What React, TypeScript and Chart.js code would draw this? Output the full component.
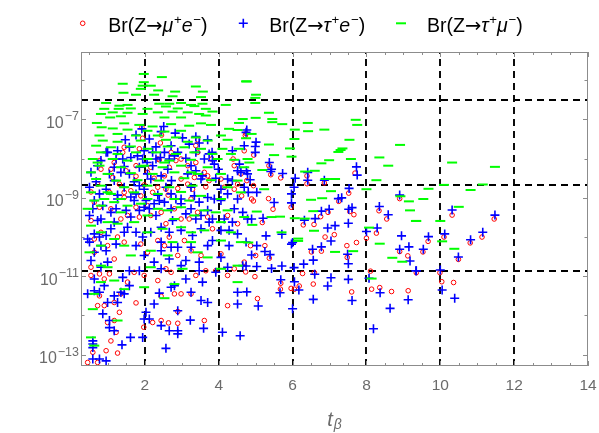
import React, { useEffect, useRef } from "react";
import { Chart, registerables } from "chart.js";

Chart.register(...registerables);

// ---------- data: [t_beta, log10(Br)] ----------
const muE: number[][] = [
  [10.32, -9.44], [11.46, -9.54], [9.67, -10.11], [10.1, -10.0], [10.81, -10.15], [11.13, -10.0],
  [9.53, -10.38], [10.49, -10.57], [9.35, -10.91], [9.99, -10.91], [10.04, -11.14], [10.36, -11.16],
  [4.74, -7.36], [4.95, -7.91], [5.36, -8.18], [5.41, -8.41], [5.68, -8.49], [6.39, -8.44],
  [6.39, -8.64], [6.86, -8.62], [7.69, -8.37], [4.76, -8.56], [5.35, -9.02], [5.47, -9.29],
  [4.94, -9.08], [5.96, -9.24], [7.52, -8.88], [7.25, -9.09], [7.55, -9.35], [7.66, -9.43],
  [6.96, -9.37], [6.76, -9.48], [6.58, -9.68], [6.29, -9.69], [5.18, -9.63], [7.13, -9.94],
  [6.88, -10.0], [6.78, -10.36], [6.51, -10.38], [7.47, -10.22], [7.48, -10.52], [7.73, -10.14],
  [8.0, -10.03], [8.27, -9.9], [8.34, -9.33], [8.55, -9.54], [8.9, -9.02], [8.9, -10.37],
  [9.12, -10.48], [8.11, -10.87], [8.14, -11.33], [8.36, -11.29], [8.68, -11.39], [9.13, -11.37],
  [7.6, -11.4], [6.56, -11.2], [6.59, -10.91], [6.27, -10.93], [6.18, -11.25], [6.05, -11.33],
  [5.96, -11.31], [5.67, -11.33], [5.68, -11.18], [5.05, -11.57], [5.25, -10.22], [5.37, -10.54],
  [5.0, -10.47], [4.86, -10.22], [4.98, -11.01], [4.73, -10.89], [4.94, -8.69], [4.89, -9.03],
  [1.92, -7.2], [2.45, -7.4], [1.94, -7.48], [1.44, -7.71], [2.42, -7.6], [3.43, -7.52],
  [3.38, -7.67], [4.69, -7.8], [4.72, -7.41], [0.78, -8.05], [1.17, -8.1], [1.76, -8.18],
  [2.39, -8.03], [2.84, -8.05], [3.38, -8.1], [3.81, -8.01], [4.39, -8.01], [0.81, -8.27],
  [1.49, -8.31], [2.16, -8.22], [2.66, -8.22], [3.16, -8.18], [3.61, -8.35], [4.6, -8.39],
  [1.13, -8.48], [1.76, -8.45], [2.25, -8.5], [3.34, -8.48], [3.74, -8.56], [0.72, -8.65],
  [1.31, -8.65], [1.98, -8.67], [2.57, -8.78], [3.16, -8.65], [3.65, -8.72], [4.15, -8.73],
  [0.54, -8.85], [1.04, -8.86], [1.62, -8.82], [2.21, -8.86], [2.89, -8.76], [3.29, -8.78],
  [4.42, -8.78], [4.62, -8.95], [1.44, -8.99], [2.63, -8.93],
  [1.4, -7.84], [1.85, -7.75], [2.35, -8.01], [2.71, -7.84], [2.98, -8.01], [3.43, -7.84],
  [3.7, -8.44], [4.06, -8.52], [4.51, -8.65], [4.42, -8.18], [1.08, -8.27], [2.07, -8.35],
  [2.53, -8.44], [2.98, -8.52], [1.44, -8.86], [1.89, -8.95], [3.25, -9.03], [2.35, -8.73],
  [0.54, -9.58], [0.77, -9.24], [1.35, -9.54], [1.76, -9.24], [1.85, -9.49], [2.16, -9.45],
  [2.57, -9.66], [3.2, -9.54], [3.83, -9.79], [0.63, -10.05], [0.99, -10.22], [1.26, -10.0],
  [1.89, -10.18], [2.35, -10.09], [2.66, -10.0], [2.89, -10.47], [3.25, -10.35], [2.71, -10.9],
  [0.54, -10.77], [0.9, -11.07], [0.77, -10.94], [1.04, -10.94], [0.54, -10.98], [1.71, -10.9],
  [2.57, -10.81], [1.98, -10.98], [3.38, -10.98], [3.65, -10.86], [3.92, -10.86], [4.24, -10.98],
  [4.69, -10.64], [2.8, -11.45], [2.98, -11.45], [3.25, -11.45], [2.44, -11.51], [1.76, -11.68],
  [1.35, -11.45], [0.77, -11.5], [0.9, -11.75], [1.31, -11.92], [1.17, -12.13], [0.99, -12.18],
  [2.89, -11.9], [2.44, -12.13], [2.64, -12.19], [2.89, -12.2], [2.21, -12.18], [3.61, -12.13],
  [4.24, -11.75], [1.97, -12.3], [1.22, -12.43], [1.08, -12.65], [1.26, -12.96], [0.95, -12.9],
  [0.59, -12.94], [0.45, -13.2], [0.72, -13.2],
  [0.63, -9.11], [1.08, -9.28], [1.53, -9.45], [2.07, -9.2], [2.44, -9.37], [2.8, -9.28],
  [2.98, -9.54], [3.43, -9.37], [3.7, -9.49], [4.24, -9.45], [4.51, -9.66], [0.81, -9.88],
  [1.44, -10.13], [2.07, -10.39], [2.53, -10.22], [3.07, -10.09], [3.52, -10.47], [4.06, -10.43],
  [4.42, -10.81], [0.63, -10.39], [1.17, -10.56], [1.53, -11.15], [2.35, -11.11], [1.17, -11.67],
  [0.72, -11.75],
];

const tauE: number[][] = [
  [10.32, -9.31], [11.48, -9.44], [9.68, -9.99], [10.12, -9.92], [10.82, -10.07], [11.15, -9.88],
  [9.54, -10.31], [10.49, -10.51], [9.35, -10.86], [10.0, -10.84], [10.05, -11.35], [10.39, -11.56],
  [4.76, -7.27], [5.01, -7.58], [4.99, -7.84], [4.99, -7.69], [5.37, -8.1], [5.43, -8.27],
  [5.41, -8.33], [5.73, -8.38], [6.07, -8.5], [6.41, -8.35], [6.41, -8.55], [6.86, -8.55],
  [7.73, -8.21], [7.75, -8.42], [4.75, -8.31], [4.85, -8.54], [5.03, -8.86], [4.8, -8.86],
  [6.04, -8.73], [5.97, -8.9], [5.97, -9.13], [5.5, -9.12], [7.53, -8.76], [7.24, -9.02],
  [7.33, -9.0], [7.61, -9.25], [7.52, -9.29], [6.99, -9.29], [6.78, -9.34], [6.61, -9.53],
  [6.32, -9.57], [5.2, -9.52], [4.89, -9.54], [7.51, -9.65], [7.15, -9.71], [6.95, -9.77],
  [7.04, -10.1], [6.78, -10.25], [6.54, -10.31], [5.71, -9.93], [5.28, -9.97], [5.97, -10.18],
  [6.0, -10.14], [5.03, -10.22], [4.89, -10.46], [5.39, -10.45], [5.25, -10.37], [7.49, -10.44],
  [7.51, -10.68], [6.56, -10.59], [6.3, -10.69], [6.04, -10.78], [5.71, -10.74], [5.43, -10.8],
  [5.03, -10.75], [4.74, -10.74], [8.0, -9.86], [8.29, -9.77], [8.35, -9.22], [8.59, -9.43],
  [8.9, -8.93], [8.95, -9.97], [9.15, -10.25], [8.9, -10.31], [9.18, -10.61], [9.34, -10.86],
  [8.07, -11.05], [8.37, -11.42], [9.13, -11.6], [8.64, -11.82], [8.19, -12.34], [7.61, -11.62],
  [7.51, -11.08], [7.04, -11.04], [6.95, -11.25], [6.6, -10.95], [6.56, -11.59], [6.17, -11.35],
  [6.05, -11.14], [6.0, -11.83], [5.68, -11.09], [5.66, -11.42], [5.07, -11.76], [4.76, -11.4],
  [2.51, -7.18], [2.44, -7.31], [2.82, -7.35], [1.92, -7.24], [1.76, -7.4], [2.12, -7.5],
  [1.47, -7.52], [3.02, -7.47], [3.38, -7.44], [3.7, -7.52], [3.47, -7.6], [3.2, -7.63],
  [2.71, -7.67], [1.58, -7.71], [2.3, -7.7], [0.95, -7.84], [1.26, -7.8], [1.98, -7.8],
  [2.89, -7.84], [3.82, -7.84], [4.37, -7.8], [4.74, -7.33], [4.69, -7.67], [0.81, -8.05],
  [1.22, -8.01], [1.62, -7.97], [2.06, -8.1], [2.42, -7.97], [3.11, -7.99], [3.61, -8.01],
  [3.83, -8.05], [4.56, -8.14], [0.72, -8.18], [1.44, -8.2], [1.85, -8.22], [2.21, -8.18],
  [2.62, -8.27], [3.38, -8.31], [3.99, -8.27], [4.6, -8.35], [0.54, -8.35], [1.04, -8.39],
  [1.58, -8.39], [2.07, -8.39], [2.44, -8.44], [3.16, -8.39], [3.56, -8.44], [0.68, -8.59],
  [1.17, -8.56], [1.71, -8.59], [2.16, -8.52], [2.72, -8.56], [3.52, -8.52], [3.92, -8.5],
  [4.37, -8.56], [0.5, -8.73], [0.95, -8.78], [1.44, -8.73], [1.98, -8.78], [2.57, -8.73],
  [3.25, -8.73], [4.06, -8.78], [4.69, -8.73], [0.77, -8.9], [1.26, -8.93], [1.76, -8.9],
  [2.35, -8.93], [2.98, -9.03], [3.7, -8.99], [4.24, -8.9],
  [0.99, -7.84], [1.17, -8.22], [1.4, -8.01], [1.8, -7.93], [1.94, -8.01], [2.21, -7.84],
  [2.3, -8.01], [2.53, -7.84], [2.66, -8.01], [2.8, -7.93], [3.25, -8.18], [3.38, -7.84],
  [3.74, -7.88], [3.88, -8.14], [4.24, -8.52], [4.51, -8.31], [4.78, -8.39], [1.35, -8.35],
  [1.85, -8.69], [2.71, -8.9], [3.34, -8.95], [3.88, -9.03], [4.51, -9.03],
  [0.5, -9.45], [0.63, -9.07], [0.86, -9.2], [1.26, -9.03], [1.62, -8.98], [2.03, -9.07],
  [2.53, -9.11], [2.98, -9.15], [3.47, -9.11], [3.7, -9.32], [4.06, -9.07], [4.42, -9.28],
  [4.65, -9.37], [0.72, -9.58], [1.17, -9.62], [1.62, -9.49], [1.85, -9.32], [2.3, -9.45],
  [2.75, -9.58], [3.11, -9.41], [3.38, -9.54], [3.74, -9.62], [4.06, -9.83], [4.28, -9.83],
  [0.63, -9.92], [0.95, -9.96], [1.44, -9.88], [1.94, -10.0], [2.16, -9.88], [2.66, -9.88],
  [3.29, -9.96], [4.51, -9.92], [4.74, -10.13], [0.5, -10.13], [0.81, -10.22], [1.22, -10.18],
  [1.76, -10.22], [2.44, -10.13], [2.89, -10.26], [3.25, -10.26], [3.7, -10.22], [0.63, -10.39],
  [0.95, -10.35], [1.98, -10.47], [2.66, -10.56], [3.11, -10.6], [3.47, -10.64], [4.06, -10.52],
  [4.24, -10.77], [4.65, -10.73], [0.54, -10.6], [0.81, -10.77], [0.99, -10.64], [2.25, -10.64],
  [2.44, -10.81], [1.58, -10.86], [1.4, -11.03], [1.85, -10.86], [3.11, -11.07], [3.56, -11.15],
  [3.92, -10.9], [2.8, -11.24], [1.58, -11.24], [0.63, -11.37], [0.77, -11.41], [0.45, -11.45],
  [1.17, -11.5], [1.35, -11.41], [1.44, -11.45], [1.26, -11.67], [0.99, -11.67], [2.25, -11.71],
  [2.39, -11.43], [2.71, -11.28], [3.52, -11.62], [3.25, -11.41], [3.7, -11.67], [4.51, -11.71],
  [4.51, -11.41], [2.03, -11.92], [2.89, -11.88], [0.86, -11.96], [1.04, -12.13], [1.98, -12.09],
  [2.12, -12.09], [2.44, -12.26], [2.66, -12.39], [2.89, -12.39], [2.89, -12.47], [3.23, -12.12],
  [3.59, -12.33], [4.1, -12.43], [4.58, -12.52], [1.17, -12.39], [1.04, -12.31], [0.59, -12.65],
  [0.59, -12.73], [0.59, -12.82], [1.38, -12.75], [1.61, -12.56], [1.94, -12.56], [2.57, -12.84],
  [0.59, -13.11], [0.77, -13.11], [0.95, -13.16],
  [0.59, -9.28], [0.81, -9.54], [1.08, -9.37], [1.22, -9.28], [1.49, -9.32], [1.71, -9.07],
  [1.98, -9.24], [2.12, -9.28], [2.25, -9.15], [2.39, -9.07], [2.71, -9.28], [2.84, -9.03],
  [3.25, -9.28], [3.52, -9.45], [3.83, -9.54], [4.15, -9.54], [4.37, -9.62], [4.78, -9.54],
  [0.45, -10.05], [0.77, -10.0], [1.08, -9.79], [1.53, -9.75], [1.76, -9.88], [2.44, -9.75],
  [2.98, -9.83], [3.52, -9.79], [3.83, -10.09], [4.28, -10.22], [2.44, -10.35], [2.71, -10.26],
  [2.98, -10.73], [3.47, -10.86], [0.63, -11.07], [0.9, -11.24],
];

const tauMu: number[][] = [
  [10.32, -8.1], [11.48, -8.21], [9.68, -8.77], [10.1, -8.67], [10.82, -8.8], [11.15, -8.66],
  [9.54, -9.03], [10.5, -9.23], [9.35, -9.59], [10.0, -9.59], [10.05, -10.11], [10.38, -10.3],
  [4.76, -6.03], [5.01, -6.37], [4.99, -6.45], [4.99, -6.58], [5.36, -6.83], [5.45, -6.99],
  [5.45, -7.07], [5.72, -7.12], [5.0, -6.96], [6.41, -7.09], [6.42, -7.3], [6.06, -7.26],
  [6.86, -7.26], [7.71, -7.01], [7.75, -7.14], [6.05, -7.5], [7.54, -7.52], [4.89, -7.37],
  [5.36, -7.64], [5.93, -7.74], [7.35, -7.74], [7.3, -7.78], [7.24, -7.83], [8.91, -7.65],
  [6.99, -8.04], [6.78, -8.12], [5.5, -7.91], [7.58, -8.01], [8.35, -7.97], [5.97, -7.95],
  [4.83, -8.1], [8.59, -8.18], [6.6, -8.31], [6.34, -8.33], [7.15, -8.52], [6.89, -8.52],
  [8.27, -8.55], [5.18, -8.29], [5.23, -8.78], [7.04, -8.83], [6.8, -9.01], [6.5, -9.05],
  [8.0, -8.78], [8.92, -8.96], [9.15, -9.09], [9.18, -9.32], [9.34, -9.59], [6.56, -9.34],
  [5.66, -9.48], [5.43, -9.49], [6.06, -9.52], [6.33, -9.53], [6.58, -9.84], [5.7, -9.88],
  [8.07, -9.76], [8.36, -10.17], [6.15, -10.04], [6.15, -10.1], [5.03, -9.35], [4.91, -9.69],
  [7.64, -10.36], [7.15, -10.38], [8.7, -10.53], [8.97, -10.63], [8.14, -11.06], [4.8, -10.14],
  [1.97, -5.84], [2.46, -5.92], [1.4, -6.09], [1.97, -6.05], [1.94, -6.14], [2.16, -6.14],
  [1.89, -6.22], [2.36, -6.26], [3.38, -6.16], [1.42, -6.32], [2.82, -6.29], [3.57, -6.29],
  [2.25, -6.37], [1.76, -6.37], [4.74, -6.03], [2.75, -6.41], [3.52, -6.43],
  [0.95, -6.58], [1.31, -6.65], [1.53, -6.63], [2.39, -6.6], [2.66, -6.6], [2.98, -6.58],
  [3.25, -6.63], [3.56, -6.6], [4.19, -6.63], [0.9, -6.73], [1.29, -6.73], [1.62, -6.72],
  [2.07, -6.73], [2.57, -6.67], [2.89, -6.72], [3.34, -6.66], [3.65, -6.73], [0.81, -6.86],
  [1.13, -6.82], [1.53, -6.83], [1.94, -6.86], [2.35, -6.82], [2.75, -6.8], [3.16, -6.82],
  [3.47, -6.86], [3.83, -6.8], [1.06, -6.95], [1.35, -6.92], [2.53, -6.95], [2.98, -6.95],
  [3.65, -6.9], [4.65, -6.99], [0.7, -7.09], [1.44, -7.1], [1.85, -7.14], [2.21, -7.18],
  [2.71, -7.12], [3.2, -7.16], [3.52, -7.1], [3.79, -7.14], [4.55, -7.09], [0.83, -7.2],
  [1.13, -7.23], [1.53, -7.26], [2.07, -7.29], [2.53, -7.31], [2.98, -7.29], [4.28, -7.24],
  [4.51, -7.27], [1.26, -7.37], [0.77, -7.41], [1.76, -7.41], [2.35, -7.41], [2.84, -7.46],
  [3.38, -7.46], [4.06, -7.41], [0.86, -7.54], [1.26, -7.57], [1.89, -7.54], [2.57, -7.52],
  [3.16, -7.57], [3.7, -7.54], [4.24, -7.52], [4.74, -7.48], [0.68, -7.67], [1.08, -7.71],
  [1.62, -7.69], [2.07, -7.75], [2.62, -7.69], [3.07, -7.71], [3.52, -7.75], [4.1, -7.75],
  [4.55, -7.75], [0.81, -7.84], [1.26, -7.88], [1.76, -7.84], [2.3, -7.84], [2.84, -7.88],
  [3.34, -7.84], [3.83, -7.88], [4.33, -7.88], [0.59, -8.01], [1.13, -8.01], [1.53, -8.05],
  [2.07, -8.01], [2.66, -8.05], [3.25, -8.03], [4.42, -8.03], [0.77, -8.18], [1.35, -8.22],
  [1.89, -8.2], [2.48, -8.22], [2.98, -8.18], [3.7, -8.22], [4.69, -8.22], [0.54, -8.35],
  [0.99, -8.39], [1.62, -8.37], [2.21, -8.39], [2.8, -8.35], [3.43, -8.39], [4.06, -8.39],
  [0.68, -8.52], [1.22, -8.56], [1.8, -8.55], [2.39, -8.56], [3.07, -8.5], [3.79, -8.55],
  [4.51, -8.56], [0.81, -8.69], [1.44, -8.73], [2.07, -8.69], [2.66, -8.73], [3.29, -8.69],
  [4.24, -8.73], [0.54, -8.86], [1.08, -8.9], [1.71, -8.86], [2.35, -8.9], [2.98, -8.85],
  [4.6, -8.86], [1.35, -9.03],
  [0.72, -8.1], [1.98, -8.18], [2.53, -8.1], [3.25, -8.35], [3.97, -8.01], [4.78, -8.01],
  [0.99, -8.86], [2.07, -9.03], [2.8, -9.03], [3.52, -8.95], [4.06, -9.03],
  [0.63, -9.07], [0.9, -9.03], [1.17, -9.11], [0.81, -9.2], [1.53, -9.2], [1.89, -9.15],
  [2.35, -9.28], [2.62, -9.32], [2.98, -9.24], [3.2, -9.07], [3.61, -9.32], [3.92, -9.37],
  [4.24, -9.32], [4.69, -9.49], [0.54, -9.71], [0.99, -9.62], [1.26, -9.66], [1.71, -9.62],
  [2.48, -9.79], [2.98, -9.75], [3.61, -9.83], [4.06, -10.09], [4.6, -10.13], [1.17, -10.05],
  [1.44, -10.22], [2.16, -10.35], [2.75, -10.13], [3.25, -10.13], [3.7, -10.52], [0.5, -10.39],
  [0.81, -10.73], [0.99, -10.77], [2.16, -10.77], [3.02, -10.81], [4.06, -10.81], [4.51, -10.73],
  [1.17, -11.11], [1.98, -11.28], [2.53, -11.56], [0.63, -11.45], [0.59, -11.84], [1.26, -12.13],
  [0.54, -12.56], [0.63, -12.77], [4.51, -11.15], [2.8, -11.2],
  [0.45, -9.28], [1.35, -9.37], [2.07, -9.45], [2.8, -9.54], [3.34, -9.45], [4.06, -9.62],
  [0.81, -9.88], [2.07, -9.88], [3.25, -9.88], [4.33, -9.88], [0.81, -10.22], [1.62, -10.47],
  [2.62, -10.47], [3.43, -10.39], [0.81, -11.15], [1.44, -11.33],
];

// axis ranges, grid lines, tick labels
const xMin = 0.27;
const xMax = 14;
const logMin = -13.29;
const logMax = -5.28;
const xGridValues = [2, 4, 6, 8, 10, 12];
const yGridValues = [3.1e-7, 2.1e-9, 1.4e-11];
const xTickLabels = [2, 4, 6, 8, 10, 12, 14];
const yLabelExponents = [-13, -11, -9, -7];
const xAxisTitle = "t";
const xAxisTitleSub = "β";

type Seg = { t: string; i?: boolean; s?: boolean; f?: string };
const legendTexts: Seg[][] = [
  [{ t: "Br(Z" }, { t: "→", f: '"DejaVu Sans"' }, { t: "μ", i: true }, { t: "+", s: true }, { t: "e", i: true }, { t: "−", s: true }, { t: ")" }],
  [{ t: "Br(Z" }, { t: "→", f: '"DejaVu Sans"' }, { t: "τ", i: true }, { t: "+", s: true }, { t: "e", i: true }, { t: "−", s: true }, { t: ")" }],
  [{ t: "Br(Z" }, { t: "→", f: '"DejaVu Sans"' }, { t: "τ", i: true }, { t: "+", s: true }, { t: "μ", i: true }, { t: "−", s: true }, { t: ")" }],
];

const RED = "rgb(255,0,0)";
const BLUE = "rgb(0,0,255)";
const GREEN = "rgb(0,255,0)";
const FONT = '"Liberation Sans", Arial, Helvetica, sans-serif';
const AXIS_GRAY = "#8c8c8c";
const LABEL_GRAY = "#6b6b6b";

const toPoints = (arr: number[][]) => arr.map(([t, lg]) => ({ x: t, y: Math.pow(10, lg) }));

function drawRich(ctx: CanvasRenderingContext2D, x: number, baseline: number, segs: Seg[], size: number) {
  let cx = x;
  segs.forEach((sg) => {
    const sz = sg.s ? size * 0.68 : size;
    ctx.font = `${sg.i ? "italic " : ""}${sz}px ${sg.f ? sg.f + ", " + FONT : FONT}`;
    const yy = sg.s ? baseline - size * 0.4 : baseline;
    ctx.fillText(sg.t, cx, yy);
    cx += ctx.measureText(sg.t).width + (sg.i ? size * 0.04 : 0);
  });
}

function drawMarker(ctx: CanvasRenderingContext2D, kind: number, x: number, y: number) {
  ctx.save();
  ctx.beginPath();
  if (kind === 0) {
    ctx.strokeStyle = RED;
    ctx.lineWidth = 1;
    ctx.arc(x, y, 2.3, 0, Math.PI * 2);
  } else if (kind === 1) {
    ctx.strokeStyle = BLUE;
    ctx.lineWidth = 1.6;
    ctx.moveTo(x - 4.5, y);
    ctx.lineTo(x + 4.5, y);
    ctx.moveTo(x, y - 4.5);
    ctx.lineTo(x, y + 4.5);
  } else {
    ctx.strokeStyle = GREEN;
    ctx.lineWidth = 2;
    ctx.moveTo(x - 5, y);
    ctx.lineTo(x + 5, y);
  }
  ctx.stroke();
  ctx.restore();
}

const framePlugin = {
  id: "mmaFrame",
  beforeDatasetsDraw(chart: any) {
    const { ctx, chartArea: a, scales } = chart;
    const xs = scales.x;
    const ys = scales.y;
    ctx.save();
    ctx.beginPath();
    ctx.rect(a.left, a.top, a.right - a.left, a.bottom - a.top);
    ctx.clip();
    ctx.strokeStyle = "#000";
    ctx.lineWidth = 1.9;
    ctx.setLineDash([7, 5]);
    xGridValues.forEach((v) => {
      const px = Math.round(xs.getPixelForValue(v));
      ctx.beginPath();
      ctx.moveTo(px, a.bottom);
      ctx.lineTo(px, a.top);
      ctx.stroke();
    });
    yGridValues.forEach((v) => {
      const py = Math.round(ys.getPixelForValue(v));
      ctx.beginPath();
      ctx.moveTo(a.left, py);
      ctx.lineTo(a.right, py);
      ctx.stroke();
    });
    ctx.restore();
  },
  afterDraw(chart: any) {
    const { ctx, chartArea: a, scales } = chart;
    const xs = scales.x;
    const ys = scales.y;
    ctx.save();
    // frame
    ctx.strokeStyle = AXIS_GRAY;
    ctx.lineWidth = 1;
    ctx.strokeRect(Math.round(a.left) + 0.5, Math.round(a.top) + 0.5, Math.round(a.right - a.left) - 1, Math.round(a.bottom - a.top) - 1);
    // x ticks (inward, both sides)
    ctx.beginPath();
    for (let k = 1; k <= 28; k++) {
      const v = k * 0.5;
      if (v < xMin || v > xMax) continue;
      const px = Math.round(xs.getPixelForValue(v)) + 0.5;
      const len = k % 4 === 0 ? 5 : 3;
      ctx.moveTo(px, a.bottom);
      ctx.lineTo(px, a.bottom - len);
      ctx.moveTo(px, a.top);
      ctx.lineTo(px, a.top + len);
    }
    // y ticks
    for (let e = -13; e <= -6; e++) {
      const py = Math.round(ys.getPixelForValue(Math.pow(10, e))) + 0.5;
      const len = e % 2 !== 0 ? 5 : 3.5;
      ctx.moveTo(a.left, py);
      ctx.lineTo(a.left + len, py);
      ctx.moveTo(a.right, py);
      ctx.lineTo(a.right - len, py);
    }
    ctx.stroke();

    // tick labels
    ctx.fillStyle = LABEL_GRAY;
    ctx.textBaseline = "alphabetic";
    ctx.font = `15.5px ${FONT}`;
    ctx.textAlign = "center";
    xTickLabels.forEach((v) => {
      const px = xs.getPixelForValue(v);
      ctx.fillText(String(v), px, a.bottom + 24);
    });
    ctx.textAlign = "left";
    yLabelExponents.forEach((e) => {
      const py = ys.getPixelForValue(Math.pow(10, e));
      const sup = "−" + Math.abs(e);
      ctx.font = `12.5px ${FONT}`;
      const wSup = ctx.measureText(sup).width;
      ctx.font = `16px ${FONT}`;
      const wBase = ctx.measureText("10").width;
      const right = a.left - 2;
      ctx.fillText("10", right - wSup - 1 - wBase, py + 8.5);
      ctx.font = `12.5px ${FONT}`;
      ctx.fillText(sup, right - wSup, py + 1);
    });

    // axis title
    ctx.font = `italic 20px ${FONT}`;
    const wt = ctx.measureText(xAxisTitle).width;
    ctx.font = `italic 14px ${FONT}`;
    const wb = ctx.measureText(xAxisTitleSub).width;
    const cx = (a.left + a.right) / 2;
    const startX = cx - (wt + wb + 1) / 2;
    ctx.font = `italic 20px ${FONT}`;
    ctx.fillText(xAxisTitle, startX, a.bottom + 60);
    ctx.font = `italic 14px ${FONT}`;
    ctx.fillText(xAxisTitleSub, startX + wt + 1, a.bottom + 63);

    // legend
    ctx.fillStyle = "#000";
    const markerX = [82.7, 243.3, 401];
    const textX = [108.3, 269.3, 427];
    legendTexts.forEach((segs, i) => {
      drawMarker(ctx, i, markerX[i], 23.3);
      drawRich(ctx, textX[i], 31.7, segs, 19.5);
    });
    ctx.restore();
  },
};

export default function App() {
  const ref = useRef<HTMLCanvasElement | null>(null);
  useEffect(() => {
    document.body.style.margin = "0";
    const canvas = ref.current;
    if (!canvas) return;
    const chart = new Chart(canvas, {
      type: "scatter",
      data: {
        datasets: [
          {
            label: "Br(Z→μ+e−)",
            data: toPoints(muE),
            pointStyle: "circle",
            pointRadius: 2.3,
            pointBorderColor: RED,
            pointBackgroundColor: "rgba(0,0,0,0)",
            pointBorderWidth: 1,
            borderColor: RED,
            backgroundColor: "rgba(0,0,0,0)",
            order: 2,
          },
          {
            label: "Br(Z→τ+e−)",
            data: toPoints(tauE),
            pointStyle: "cross",
            pointRadius: 4.5,
            pointBorderColor: BLUE,
            pointBackgroundColor: BLUE,
            pointBorderWidth: 1.6,
            borderColor: BLUE,
            backgroundColor: BLUE,
            order: 1,
          },
          {
            label: "Br(Z→τ+μ−)",
            data: toPoints(tauMu),
            pointStyle: "line",
            pointRadius: 5,
            pointBorderColor: GREEN,
            pointBackgroundColor: GREEN,
            pointBorderWidth: 2,
            borderColor: GREEN,
            backgroundColor: GREEN,
            order: 0,
          },
        ],
      },
      options: {
        responsive: false,
        animation: false,
        events: [],
        devicePixelRatio: 1,
        layout: { padding: { left: 81, top: 52, right: 11, bottom: 67 } },
        plugins: { legend: { display: false }, tooltip: { enabled: false } },
        scales: {
          x: {
            type: "linear",
            display: false,
            bounds: "data",
            min: xMin,
            max: xMax,
            afterDataLimits: (s: any) => {
              s.min = xMin;
              s.max = xMax;
            },
          },
          y: {
            type: "logarithmic",
            display: false,
            bounds: "data",
            min: Math.pow(10, logMin),
            max: Math.pow(10, logMax),
            afterDataLimits: (s: any) => {
              s.min = Math.pow(10, logMin);
              s.max = Math.pow(10, logMax);
            },
          },
        },
      } as any,
      plugins: [framePlugin],
    });
    return () => chart.destroy();
  }, []);
  return (
    <div style={{ position: "fixed", left: 0, top: 0, width: 599, height: 433, background: "#fff" }}>
      <canvas ref={ref} width={599} height={433} style={{ display: "block", width: 599, height: 433 }} />
    </div>
  );
}
